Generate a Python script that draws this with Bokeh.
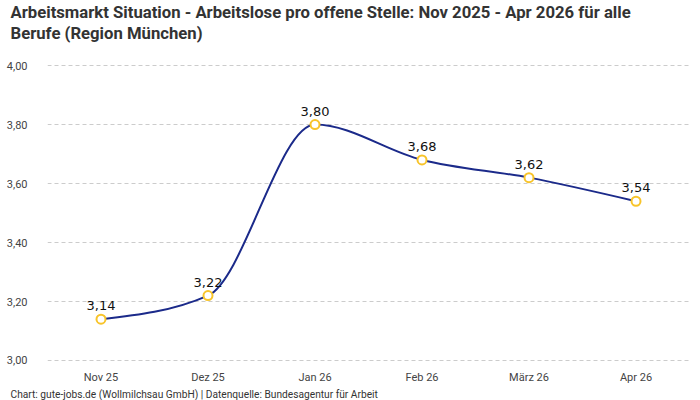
from bokeh.plotting import figure
from bokeh.models import ColumnDataSource, FixedTicker, Range1d, Title
from bokeh.core.properties import value
from bokeh.embed import file_html
from bokeh.resources import INLINE

# Arbeitslose pro offene Stelle, Region München
months = ["Nov 25", "Dez 25", "Jan 26", "Feb 26", "März 26", "Apr 26"]
ratio = [3.14, 3.22, 3.80, 3.68, 3.62, 3.54]
y_ticks = [3.0, 3.2, 3.4, 3.6, 3.8, 4.0]

title_lines = ["Arbeitsmarkt Situation - Arbeitslose pro offene Stelle: Nov 2025 - Apr 2026 für alle",
               "Berufe (Region München)"]
footer_text = "Chart: gute-jobs.de (Wollmilchsau GmbH) | Datenquelle: Bundesagentur für Arbeit"

LINE = "#1b2a8a"
MARK = "#f8c42a"
TEXT = "#333333"


def de_num(v):
    return f"{v:.2f}".replace(".", ",")


def monotone_slopes(xs, ys):
    """Tangents of a monotone cubic (same rule as d3.curveMonotoneX)."""
    n = len(xs)
    sec = [(ys[i + 1] - ys[i]) / (xs[i + 1] - xs[i]) for i in range(n - 1)]
    t = [0.0] * n
    for i in range(1, n - 1):
        s0, s1 = sec[i - 1], sec[i]
        h0, h1 = xs[i] - xs[i - 1], xs[i + 1] - xs[i]
        p = (s0 * h1 + s1 * h0) / (h0 + h1)
        sg = (1 if s0 > 0 else -1 if s0 < 0 else 0) + (1 if s1 > 0 else -1 if s1 < 0 else 0)
        t[i] = sg * min(abs(s0), abs(s1), 0.5 * abs(p))
    t[0] = (3 * sec[0] - t[1]) / 2
    t[-1] = (3 * sec[-1] - t[-2]) / 2
    return t


xs = list(range(len(months)))
tan = monotone_slopes(xs, ratio)

seg = dict(x0=[], y0=[], x1=[], y1=[], cx0=[], cy0=[], cx1=[], cy1=[])
for i in range(len(xs) - 1):
    h = (xs[i + 1] - xs[i]) / 3
    seg["x0"].append(xs[i]); seg["y0"].append(ratio[i])
    seg["x1"].append(xs[i + 1]); seg["y1"].append(ratio[i + 1])
    seg["cx0"].append(xs[i] + h); seg["cy0"].append(ratio[i] + h * tan[i])
    seg["cx1"].append(xs[i + 1] - h); seg["cy1"].append(ratio[i + 1] - h * tan[i + 1])

pts = ColumnDataSource(dict(x=xs, y=ratio, label=[de_num(v) for v in ratio]))

# 294 px per unit; extra headroom above 4,00 keeps the gap under the title
px = 1 / 294
p = figure(width=700, height=400, output_backend="svg", toolbar_location=None,
           x_range=Range1d(-0.5, len(months) - 0.5),
           y_range=Range1d(3.0 - 2 * px, 4.0 + 23 * px),
           min_border_left=47, min_border_right=11, min_border_top=0, min_border_bottom=0)
p.outline_line_color = None
p.background_fill_color = "white"
p.border_fill_color = "white"
p.title = None

# two title lines; the one added last sits on top
for line in (title_lines[1], title_lines[0]):
    p.add_layout(Title(text=line, text_font="Roboto", text_font_size="16.7px",
                       text_font_style="bold", text_color=TEXT, align="left", offset=-37,
                       standoff=0), "above")

p.add_layout(Title(text=footer_text, text_font="Roboto", text_font_size="10.2px",
                   text_font_style="normal", text_color=TEXT, align="left", offset=-37,
                   standoff=1), "below")

p.bezier(x0="x0", y0="y0", x1="x1", y1="y1", cx0="cx0", cy0="cy0", cx1="cx1", cy1="cy1",
         source=ColumnDataSource(seg), line_color=LINE, line_width=2)
p.scatter("x", "y", source=pts, size=9, fill_color="white", line_color=MARK, line_width=2)
p.text("x", "y", text="label", source=pts, text_align="center", text_baseline="bottom",
       y_offset=-9, text_font_size="13px", text_font=value("DejaVu Sans"), text_color="#111111")

p.xaxis.ticker = FixedTicker(ticks=xs)
p.xaxis.major_label_overrides = {i: m for i, m in zip(xs, months)}
p.yaxis.ticker = FixedTicker(ticks=y_ticks)
p.yaxis.major_label_overrides = {v: de_num(v) for v in y_ticks}
for ax in (p.xaxis, p.yaxis):
    ax.axis_line_color = None
    ax.major_tick_line_color = None
    ax.minor_tick_line_color = None
    ax.major_label_text_font = "Roboto"
    ax.major_label_text_font_size = "11px"
    ax.major_label_text_color = "#444444"
p.yaxis.major_label_standoff = 14
p.xaxis.major_label_standoff = 2

p.xgrid.grid_line_color = None
p.ygrid.grid_line_color = "#cccccc"
p.ygrid.grid_line_dash = "4 3"

open("out.html", "w").write(file_html(p, INLINE))
